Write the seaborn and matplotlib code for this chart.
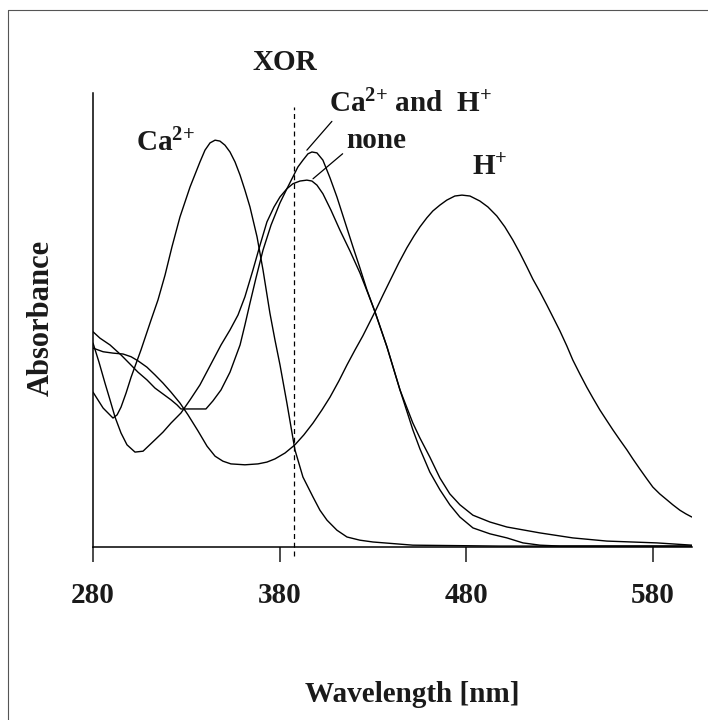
import matplotlib
matplotlib.use('Agg')
import matplotlib.pyplot as plt
import seaborn as sns
from matplotlib.lines import Line2D

sns.set_style('white')
plt.rcParams['font.family'] = ['Liberation Serif', 'DejaVu Serif']
plt.rcParams['font.weight'] = 'bold'
plt.rcParams['mathtext.fontset'] = 'custom'
plt.rcParams['mathtext.rm'] = 'Liberation Serif'
plt.rcParams['mathtext.it'] = 'Liberation Serif'
plt.rcParams['mathtext.bf'] = 'Liberation Serif:bold'

# absorption spectra (wavelength in nm, absorbance in arbitrary units)
wl_ca = [280.0, 285.4, 290.7, 292.9, 295.0, 297.7, 300.4, 305.7, 311.1, 314.8,
         318.6, 322.3, 326.6, 332.0, 337.3, 340.0, 342.7, 345.4, 348.0, 350.7,
         353.4, 356.1, 358.8, 361.4, 364.1, 367.9, 371.1, 374.8, 377.5, 380.2,
         383.9, 388.2, 392.5, 397.9, 401.6, 405.4, 410.7, 416.1, 423.0, 430.0,
         451.4, 498.0, 601.0]
abs_ca = [0.341, 0.306, 0.284, 0.291, 0.308, 0.339, 0.374, 0.434, 0.500, 0.544,
          0.599, 0.661, 0.727, 0.793, 0.848, 0.874, 0.890, 0.896, 0.894, 0.885,
          0.870, 0.848, 0.819, 0.786, 0.749, 0.683, 0.610, 0.515, 0.456, 0.401,
          0.317, 0.214, 0.154, 0.110, 0.081, 0.059, 0.037, 0.022, 0.015, 0.011,
          0.004, 0.002, 0.002]

wl_none = [280.0, 283.2, 286.4, 289.1, 291.8, 295.0, 298.2, 302.5, 306.8, 313.2,
           317.5, 321.8, 327.1, 332.0, 337.3, 342.7, 348.6, 353.4, 357.7, 361.4,
           365.7, 369.5, 373.2, 377.0, 380.2, 383.9, 387.1, 390.9, 394.6, 397.3,
           400.0, 403.2, 407.5, 412.3, 417.7, 423.0, 427.3, 431.1, 437.5, 444.5,
           451.4, 455.2, 460.5, 465.9, 471.2, 476.6, 483.6, 492.7, 501.8, 510.4,
           519.5, 530.2, 601.0]
abs_none = [0.449, 0.407, 0.361, 0.324, 0.286, 0.251, 0.225, 0.209, 0.211, 0.236,
            0.253, 0.273, 0.295, 0.324, 0.357, 0.399, 0.445, 0.478, 0.511, 0.551,
            0.610, 0.665, 0.716, 0.749, 0.771, 0.789, 0.800, 0.806, 0.808, 0.806,
            0.797, 0.778, 0.742, 0.698, 0.652, 0.604, 0.559, 0.518, 0.441, 0.346,
            0.258, 0.216, 0.165, 0.126, 0.093, 0.066, 0.042, 0.029, 0.020, 0.009,
            0.004, 0.002, 0.002]

wl_cah = [280.0, 283.7, 289.1, 295.0, 299.8, 304.1, 308.9, 313.2, 317.5, 321.8,
          325.0, 327.1, 340.5, 344.3, 348.6, 353.4, 358.8, 361.4, 364.1, 367.3,
          371.1, 375.4, 380.2, 383.9, 387.1, 389.8, 392.5, 395.2, 397.3, 400.0,
          403.2, 407.0, 410.7, 415.0, 419.3, 423.0, 426.8, 431.1, 437.5, 444.5,
          451.4, 455.2, 460.5, 465.9, 471.2, 476.6, 483.6, 492.7, 501.8, 519.5,
          537.1, 555.4, 582.1, 601.0]
abs_cah = [0.474, 0.460, 0.445, 0.423, 0.403, 0.385, 0.368, 0.350, 0.337, 0.324,
           0.313, 0.304, 0.304, 0.322, 0.346, 0.385, 0.445, 0.489, 0.537, 0.592,
           0.654, 0.709, 0.758, 0.789, 0.815, 0.837, 0.852, 0.866, 0.870, 0.868,
           0.852, 0.813, 0.771, 0.716, 0.661, 0.615, 0.566, 0.518, 0.441, 0.346,
           0.273, 0.240, 0.198, 0.152, 0.117, 0.093, 0.070, 0.055, 0.044, 0.031,
           0.020, 0.013, 0.009, 0.004]

wl_h = [280.0, 285.4, 290.7, 296.1, 300.4, 304.1, 308.9, 313.2, 317.5, 321.8,
        326.6, 330.9, 336.2, 341.1, 345.4, 349.6, 353.9, 361.4, 368.4, 373.2,
        377.5, 382.9, 388.2, 393.0, 397.9, 402.7, 407.0, 411.8, 416.1, 420.4,
        424.6, 431.1, 435.4, 439.1, 443.9, 448.2, 452.0, 455.2, 458.9, 462.1,
        465.9, 469.6, 473.9, 477.7, 482.0, 487.3, 491.6, 496.4, 500.7, 505.0,
        508.7, 512.5, 515.7, 519.5, 523.2, 526.4, 530.2, 533.9, 537.1, 540.9,
        544.6, 547.9, 551.6, 555.4, 558.6, 562.3, 566.1, 569.3, 573.0, 576.8,
        580.0, 583.7, 587.5, 590.7, 594.5, 597.7, 600.9]
abs_h = [0.438, 0.430, 0.427, 0.425, 0.419, 0.410, 0.396, 0.379, 0.361, 0.341,
         0.317, 0.291, 0.256, 0.222, 0.200, 0.189, 0.183, 0.181, 0.183, 0.187,
         0.194, 0.207, 0.225, 0.247, 0.273, 0.302, 0.330, 0.366, 0.401, 0.434,
         0.465, 0.518, 0.555, 0.586, 0.626, 0.659, 0.685, 0.705, 0.725, 0.740,
         0.753, 0.764, 0.773, 0.775, 0.773, 0.762, 0.749, 0.729, 0.705, 0.676,
         0.648, 0.617, 0.590, 0.562, 0.533, 0.507, 0.476, 0.443, 0.412, 0.381,
         0.352, 0.328, 0.302, 0.278, 0.258, 0.236, 0.214, 0.194, 0.172, 0.150,
         0.132, 0.117, 0.104, 0.093, 0.081, 0.073, 0.066]

xticks = [280, 380, 480, 580]
xor_wl = 387.7

fig = plt.figure(figsize=(7.08, 7.2), dpi=100)
ax = fig.add_axes([0.1314, 0.2403, 0.846, 0.6306])

for wl, ab in [(wl_ca, abs_ca), (wl_none, abs_none), (wl_cah, abs_cah), (wl_h, abs_h)]:
    sns.lineplot(x=wl, y=ab, ax=ax, color='black', lw=1.0, sort=False)

ax.axvline(xor_wl, ymin=-0.02, ymax=0.97, color='black', lw=0.9,
           linestyle=(0, (4, 3)), clip_on=False)

ax.set_xlim(280, 601)
ax.set_ylim(0, 1)
ax.set_xticks(xticks)
ax.set_yticks([])
for s in ['top', 'right']:
    ax.spines[s].set_visible(False)
for s in ['left', 'bottom']:
    ax.spines[s].set_color('black')
    ax.spines[s].set_linewidth(1.1)
ax.tick_params(axis='x', direction='out', length=11, width=1.1, pad=14,
               labelsize=21, colors='#1a1a1a', bottom=True)
for lab in ax.get_xticklabels():
    lab.set_fontweight('bold')

ax.set_xlabel('Wavelength [nm]', fontsize=21, fontweight='bold', color='#1a1a1a')
ax.xaxis.set_label_coords(0.533, -0.295)
ax.set_ylabel('Absorbance', fontsize=22, fontweight='bold', color='#1a1a1a')
ax.yaxis.set_label_coords(-0.062, 0.504)

tk = dict(fontsize=21, fontweight='bold', color='#1a1a1a')
ax.text(382.9, 1.066, 'XOR', ha='center', va='center', **tk)
ax.text(318.6, 0.89, 'Ca$^{2{+}}$', ha='center', va='center', **tk)
ax.text(492.6, 0.835, 'H$^{+}$', ha='center', va='center', **tk)
ax.annotate('Ca$^{2{+}}$ and  H$^{+}$', xy=(394.6, 0.874), xytext=(406.5, 0.976),
            ha='left', va='center', annotation_clip=False,
            arrowprops=dict(arrowstyle='-', color='black', lw=0.9, shrinkA=0, shrinkB=0,
                            relpos=(0.05, 0.1)), **tk)
ax.annotate('none', xy=(397.9, 0.811), xytext=(431.6, 0.896),
            ha='center', va='center', annotation_clip=False,
            arrowprops=dict(arrowstyle='-', color='black', lw=0.9, shrinkA=0, shrinkB=0,
                            relpos=(0.0, 0.1)), **tk)

# page frame of the original scan
fig.add_artist(Line2D([8 / 708, 8 / 708], [0, 1 - 10 / 720], transform=fig.transFigure,
                      color='#555555', lw=0.8))
fig.add_artist(Line2D([8 / 708, 1], [1 - 10 / 720, 1 - 10 / 720], transform=fig.transFigure,
                      color='#555555', lw=0.8))

fig.savefig('out.png', dpi=100, facecolor='white')
